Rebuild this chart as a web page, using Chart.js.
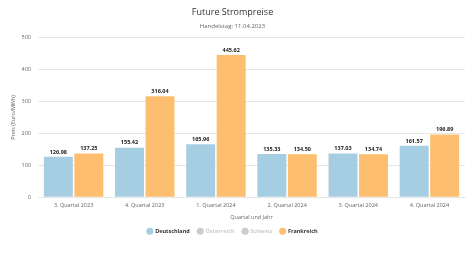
<!DOCTYPE html>
<html>
<head>
<meta charset="utf-8">
<script src="https://cdn.jsdelivr.net/npm/chart.js@4"></script>
<style>
  html, body { margin: 0; padding: 0; background: #fff; }
  #wrap { width: 474px; height: 253px; }
</style>
</head>
<body>
<div id="wrap"><canvas id="c"></canvas></div>
<script>
// Quarterly power futures, trading day 11.04.2023
const categories = ['3. Quartal 2023', '4. Quartal 2023', '1. Quartal 2024', '2. Quartal 2024', '3. Quartal 2024', '4. Quartal 2024'];
const deutschland = [126.98, 155.42, 165.96, 135.33, 137.03, 161.57];
const oesterreich = [null, null, null, null, null, null];
const schweiz = [null, null, null, null, null, null];
const frankreich = [137.25, 316.04, 445.62, 134.50, 134.74, 196.89];
const yTicks = [0, 100, 200, 300, 400, 500];

const FONT = "'Open Sans', 'DejaVu Sans', sans-serif";

// value labels above each visible bar
const valueLabels = {
  id: 'valueLabels',
  afterDatasetsDraw(chart) {
    const ctx = chart.ctx;
    ctx.save();
    ctx.font = 'bold 5.5px ' + FONT;
    ctx.fillStyle = '#222';
    ctx.textAlign = 'center';
    ctx.textBaseline = 'bottom';
    chart.data.datasets.forEach((ds, i) => {
      const meta = chart.getDatasetMeta(i);
      if (!chart.isDatasetVisible(i)) return;
      meta.data.forEach((bar, j) => {
        const v = ds.data[j];
        if (v == null) return;
        ctx.fillText(v.toFixed(2), bar.x, bar.y - 2);
      });
    });
    ctx.restore();
  }
};

new Chart(document.getElementById('c'), {
  type: 'bar',
  data: {
    labels: categories,
    datasets: [
      { label: 'Deutschland', data: deutschland, backgroundColor: '#a6cee3' },
      { label: 'Österreich', data: oesterreich, backgroundColor: '#1f78b4', hidden: true },
      { label: 'Schweiz', data: schweiz, backgroundColor: '#b2df8a', hidden: true },
      { label: 'Frankreich', data: frankreich, backgroundColor: '#fdbf6f' }
    ]
  },
  options: {
    responsive: true,
    maintainAspectRatio: false,
    animation: false,
    layout: { padding: { left: 0, right: 9, top: 0, bottom: 9 } },
    datasets: { bar: { categoryPercentage: 0.857, barPercentage: 0.95 } },
    plugins: {
      title: {
        display: true,
        text: 'Future Strompreise',
        color: '#333',
        font: { family: FONT, size: 9, weight: 'normal' },
        padding: { top: 7.5, bottom: 3.6 }
      },
      subtitle: {
        display: true,
        text: 'Handelstag: 11.04.2023',
        color: '#666',
        font: { family: FONT, size: 6 },
        padding: { top: 0.5, bottom: 8 }
      },
      legend: {
        position: 'bottom',
        onClick: null,
        labels: {
          usePointStyle: true,
          pointStyle: 'circle',
          boxWidth: 5,
          boxHeight: 5,
          padding: 8,
          font: { family: FONT, size: 5.5, weight: 'bold' },
          generateLabels(chart) {
            return chart.data.datasets.map((ds, i) => {
              const visible = chart.isDatasetVisible(i);
              return {
                text: ds.label,
                fillStyle: visible ? ds.backgroundColor : '#cccccc',
                strokeStyle: visible ? ds.backgroundColor : '#cccccc',
                lineWidth: 0,
                pointStyle: 'circle',
                fontColor: visible ? '#333' : '#cccccc',
                hidden: false,
                datasetIndex: i
              };
            });
          }
        }
      },
      tooltip: { enabled: false }
    },
    scales: {
      x: {
        grid: { display: false, drawTicks: false },
        border: { color: '#e6e6e6' },
        ticks: { color: '#666', font: { family: FONT, size: 5.5 }, padding: 5, maxRotation: 0 },
        title: {
          display: true,
          text: 'Quartal und Jahr',
          color: '#666',
          font: { family: FONT, size: 5.5 },
          padding: { top: 0, bottom: 0 }
        }
      },
      y: {
        min: 0,
        max: 500,
        afterBuildTicks(scale) { scale.ticks = yTicks.map(v => ({ value: v })); },
        afterFit(scale) { scale.width = 38; },
        grid: { color: '#e6e6e6', drawTicks: false },
        border: { display: false },
        ticks: { color: '#666', font: { family: FONT, size: 5.5 }, padding: 7 },
        title: {
          display: true,
          text: 'Preis (Euro/MWh)',
          color: '#666',
          font: { family: FONT, size: 5.5 },
          padding: { top: 10, bottom: 0 }
        }
      }
    }
  },
  plugins: [valueLabels]
});
</script>
</body>
</html>
